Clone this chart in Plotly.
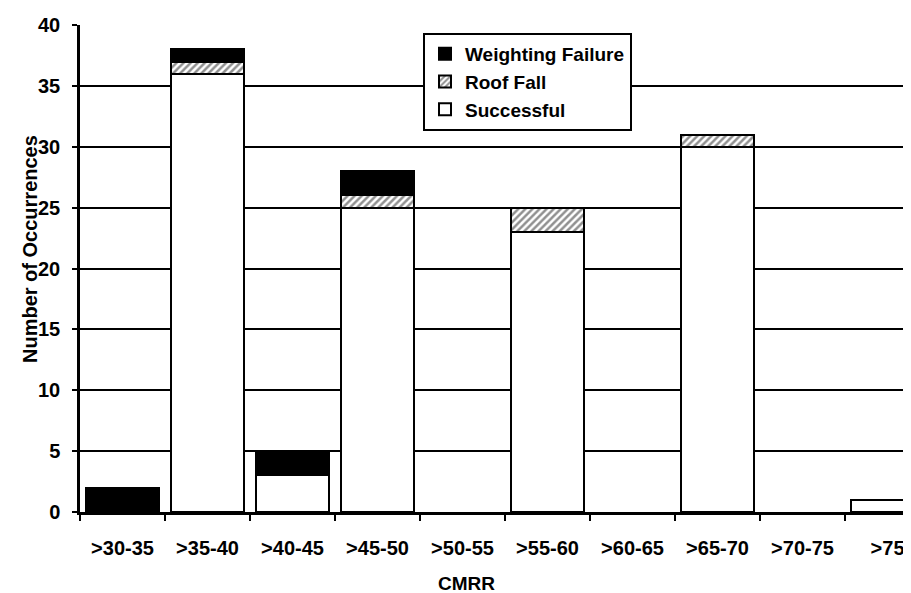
import plotly.graph_objects as go

categories = [">30-35", ">35-40", ">40-45", ">45-50", ">50-55", ">55-60",
              ">60-65", ">65-70", ">70-75", ">75"]
successful = [0, 36, 3, 25, 0, 23, 0, 30, 0, 1]
roof_fall = [0, 1, 0, 1, 0, 2, 0, 1, 0, 0]
weighting_failure = [2, 1, 2, 2, 0, 0, 0, 0, 0, 0]
y_ticks = [0, 5, 10, 15, 20, 25, 30, 35, 40]

W, H = 911, 593
L, R, T, B = 72, 0, 17, 89
pw, ph = W - L - R, H - T - B

FONT = "Liberation Sans, Arial, sans-serif"


def nz(vals):
    return [v if v else None for v in vals]


fig = go.Figure()
fig.add_trace(go.Bar(
    x=categories, y=nz(successful), name="Successful", width=0.86,
    marker=dict(color="white", line=dict(color="black", width=2)),
))
fig.add_trace(go.Bar(
    x=categories, y=nz(roof_fall), name="Roof Fall", width=0.86,
    marker=dict(color="white", line=dict(color="black", width=2),
                pattern=dict(shape="/", fgcolor="#222222", bgcolor="white",
                             size=5, solidity=0.5)),
))
fig.add_trace(go.Bar(
    x=categories, y=nz(weighting_failure), name="Weighting Failure", width=0.86,
    marker=dict(color="black", line=dict(color="black", width=2)),
))


def px_x(p):
    return (p - L) / pw


def px_y(p):
    return (H - B - p) / ph


fig.update_layout(
    width=W, height=H, barmode="stack",
    margin=dict(l=L, r=R, t=T, b=B, pad=0),
    paper_bgcolor="white", plot_bgcolor="white",
    font=dict(family=FONT, size=20, color="black", weight="bold"),
    showlegend=True,
    legend=dict(
        x=px_x(415), y=px_y(25), xanchor="left", yanchor="top",
        traceorder="reversed", bgcolor="white", bordercolor="black",
        borderwidth=2, font=dict(family=FONT, size=19, color="black", weight="bold"),
        itemsizing="constant",
    ),
    xaxis=dict(
        type="category", range=[-0.5, 9.37], tickson="boundaries",
        showgrid=False, showline=True, linecolor="black", linewidth=2.5,
        ticks="outside", ticklen=6, tickwidth=2, tickcolor="black",
        tickfont=dict(family=FONT, size=20, color="black", weight="bold"),
        ticklabelstandoff=16,
    ),
    yaxis=dict(
        range=[0, 40], tickvals=y_ticks, showgrid=True, gridcolor="black",
        gridwidth=1.8, showline=True, linecolor="black", linewidth=2.5,
        ticks="outside", ticklen=5, tickwidth=2, tickcolor="black",
        tickfont=dict(family=FONT, size=20, color="black", weight="bold"),
        ticklabelstandoff=8, zeroline=False,
    ),
    annotations=[
        dict(text="Number of Occurrences", textangle=-90, xref="paper", yref="paper",
             x=px_x(22), y=px_y(241), showarrow=False, xanchor="center", yanchor="middle",
             font=dict(family=FONT, size=20, color="black", weight="bold")),
        dict(text="CMRR", xref="paper", yref="paper",
             x=px_x(458), y=px_y(575), showarrow=False, xanchor="center", yanchor="middle",
             font=dict(family=FONT, size=19, color="black", weight="bold")),
    ],
)

fig.write_html("out.html")
